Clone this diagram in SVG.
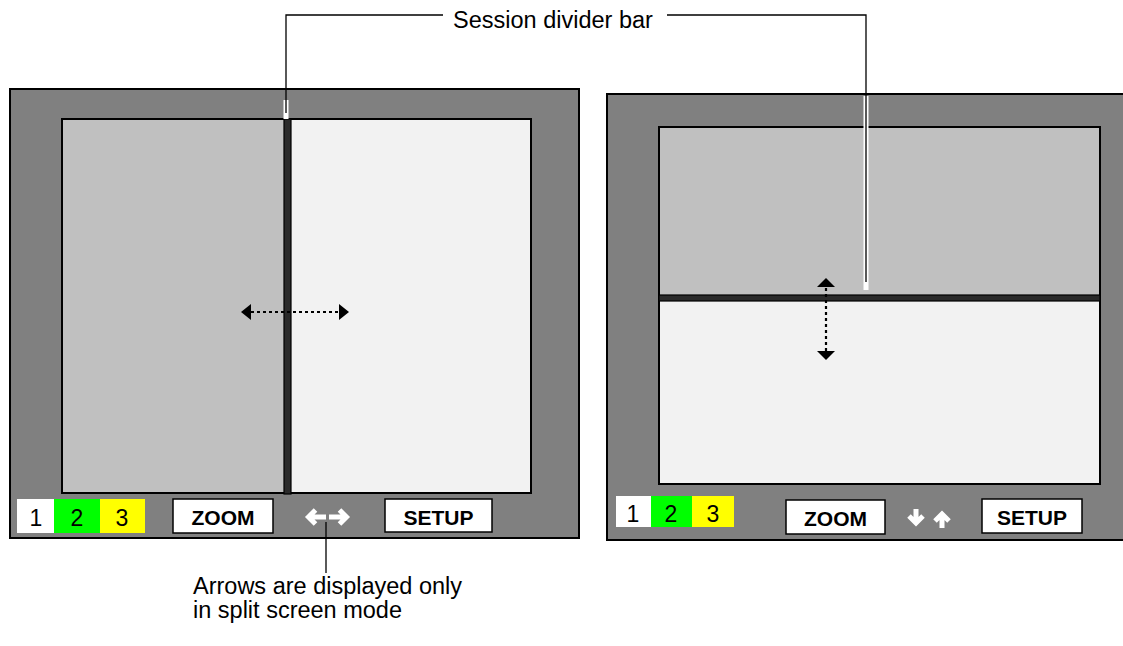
<svg xmlns="http://www.w3.org/2000/svg" width="1123" height="646" viewBox="0 0 1123 646">
<style>
.panel{fill:#808080;stroke:#000;stroke-width:2}
.frame{fill:none;stroke:#000;stroke-width:2}
.btn{fill:#fff;stroke:#000;stroke-width:1.5}
.btxt{font-family:"Liberation Sans",Arial,sans-serif;font-size:21px;font-weight:bold;fill:#000;text-anchor:middle}
.num{font-family:"Liberation Sans",Arial,sans-serif;font-size:23px;fill:#000;text-anchor:middle}
.lbl{font-family:"Liberation Sans",Arial,sans-serif;font-size:23.5px;fill:#000}
.dot{stroke:#000;stroke-width:2.2;stroke-dasharray:3 3;fill:none}
.wa{stroke:#fff;stroke-width:5;fill:none;stroke-linejoin:miter}
.halo{stroke:#fff;stroke-width:5;fill:none}
.lead{stroke:#000;stroke-width:1.3;fill:none}
</style>
<rect width="1123" height="646" fill="#fff"/>
<g id="left-screen">
<rect class="panel" x="10" y="89" width="569" height="449"/>
<rect x="62" y="119" width="222" height="374" fill="#c0c0c0"/>
<rect x="291" y="119" width="240" height="374" fill="#f2f2f2"/>
<rect class="frame" x="62" y="119" width="469" height="374"/>
<rect x="284" y="119" width="7" height="375" fill="#2a2a2a" stroke="#000" stroke-width="1.2"/>
<line class="dot" x1="251" y1="312" x2="339" y2="312"/>
<polygon points="241,312 251,304 251,320" fill="#000"/>
<polygon points="349,312 339,304 339,320" fill="#000"/>
<rect x="17" y="499" width="37" height="34" fill="#fff"/>
<rect x="54" y="499" width="46" height="34" fill="#00ff00"/>
<rect x="100" y="499" width="45" height="34" fill="#ffff00"/>
<text class="num" x="36" y="526">1</text>
<text class="num" x="77" y="526">2</text>
<text class="num" x="122" y="526">3</text>
<rect class="btn" x="173" y="499" width="100" height="34"/>
<text class="btxt" x="223" y="525">ZOOM</text>
<path class="wa" d="M310,517 H326 M315.5,510 L308.5,517 L315.5,524"/>
<path class="wa" d="M329,517 H345 M339.5,510 L346.5,517 L339.5,524"/>
<rect class="btn" x="385" y="499" width="107" height="33"/>
<text class="btxt" x="438.5" y="525">SETUP</text>
</g>
<g id="right-screen">
<rect class="panel" x="607" y="94" width="520" height="446"/>
<rect x="659" y="127" width="441" height="168" fill="#c0c0c0"/>
<rect x="659" y="301" width="441" height="183" fill="#f2f2f2"/>
<rect class="frame" x="659" y="127" width="441" height="357"/>
<rect x="659" y="295" width="441" height="6" fill="#2a2a2a" stroke="#000" stroke-width="1.2"/>
<line class="dot" x1="826" y1="288" x2="826" y2="351"/>
<polygon points="826,278 817,287 835,287" fill="#000"/>
<polygon points="826,360 817,351 835,351" fill="#000"/>
<rect x="616" y="496" width="35" height="31" fill="#fff"/>
<rect x="651" y="496" width="41" height="31" fill="#00ff00"/>
<rect x="692" y="496" width="42" height="31" fill="#ffff00"/>
<text class="num" x="633" y="522">1</text>
<text class="num" x="671" y="522">2</text>
<text class="num" x="713" y="522">3</text>
<rect class="btn" x="786" y="500" width="99" height="34"/>
<text class="btxt" x="835.5" y="526">ZOOM</text>
<path class="wa" d="M916,509 V522 M909,516 L916,523 L923,516"/>
<path class="wa" d="M942,528 V515 M935,521 L942,514 L949,521"/>
<rect class="btn" x="982" y="499" width="100" height="34"/>
<text class="btxt" x="1032" y="525">SETUP</text>
</g>
<g id="connectors">
<path class="halo" d="M286,100 V119"/>
<path class="lead" d="M443,15 H286 V113"/>
<path class="halo" d="M866,96 V290"/>
<path class="lead" d="M667,15 H866 V282"/>
<path class="lead" d="M326,522 V573"/>
</g>
<g id="labels">
<text class="lbl" x="193" y="28" dx="260">Session divider bar</text>
<text class="lbl" x="193" y="594">Arrows are displayed only</text>
<text class="lbl" x="193" y="618">in split screen mode</text>
</g>
</svg>
